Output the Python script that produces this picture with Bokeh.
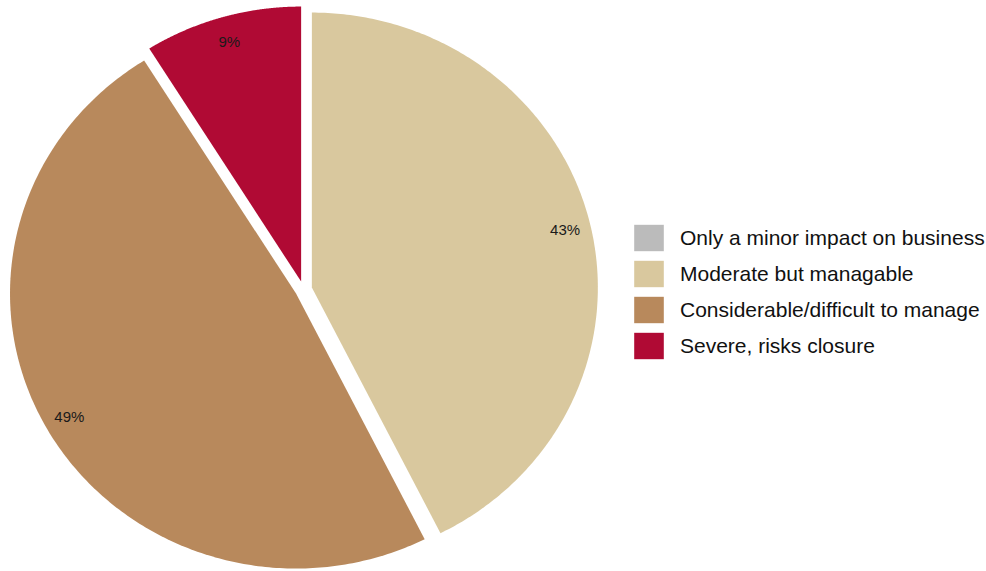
import numpy as np
from bokeh.plotting import figure
from bokeh.models import ColumnDataSource, Range1d
from bokeh.core.properties import value
from bokeh.embed import file_html
from bokeh.resources import INLINE

# ---- data ----
categories = [
    "Only a minor impact on business",
    "Moderate but managable",
    "Considerable/difficult to manage",
    "Severe, risks closure",
]
values = [0, 43, 49, 9]
pct_labels = ["", "43%", "49%", "9%"]
colors = ["#BBBBBB", "#D9C89E", "#B8895C", "#B00A34"]

# ---- layout constants ----
W, H = 986, 571
CX, CY = 303.0, H - 289.0      # pie centre (data units == pixels)
RX, RY = 286.0, 275.0          # pie radii
EXPLODE = 0.03                 # fraction of radius each slice is pulled out
LABEL_R = 0.91                 # label distance as fraction of radius

total = float(sum(values))
xs, ys, lx, ly = [], [], [], []
start = np.pi / 2
for v in values:
    sweep = v / total * 2 * np.pi
    a0, a1 = start, start - sweep
    mid = (a0 + a1) / 2
    ox = CX + EXPLODE * RX * np.cos(mid)
    oy = CY + EXPLODE * RY * np.sin(mid)
    if v > 0:
        t = np.linspace(a0, a1, 240)
        px = np.concatenate([[ox], ox + RX * np.cos(t)])
        py = np.concatenate([[oy], oy + RY * np.sin(t)])
    else:
        px = np.array([ox, ox, ox])
        py = np.array([oy, oy, oy])
    xs.append(px.tolist())
    ys.append(py.tolist())
    lx.append(ox + LABEL_R * RX * np.cos(mid))
    ly.append(oy + LABEL_R * RY * np.sin(mid))
    start = a1

src = ColumnDataSource(dict(xs=xs, ys=ys, color=colors, category=categories))
lab = ColumnDataSource(dict(x=lx, y=ly, text=pct_labels))

p = figure(width=W, height=H, output_backend="svg", toolbar_location=None,
           x_range=Range1d(0, W), y_range=Range1d(0, H),
           x_axis_location=None, y_axis_location=None,
           min_border=0, outline_line_color=None)
p.grid.visible = False
p.background_fill_color = "white"
p.border_fill_color = "white"

p.patches(xs="xs", ys="ys", fill_color="color", line_color=None,
          source=src, legend_field="category")

p.text(x="x", y="y", text="text", source=lab, text_align="center",
       text_baseline="middle", text_font=value("Liberation Sans"),
       text_font_size="15px", text_color="#1a1a1a")

lg = p.legend[0]
lg.location = (630, 209)
lg.margin = 0
lg.padding = 0
lg.spacing = 3
lg.glyph_width = 37
lg.glyph_height = 33
lg.label_standoff = 13
lg.label_height = 33
lg.label_text_font = "Liberation Sans"
lg.label_text_font_size = "21px"
lg.label_text_color = "#111111"
lg.border_line_color = None
lg.background_fill_alpha = 0

open("out.html", "w").write(file_html(p, INLINE))
